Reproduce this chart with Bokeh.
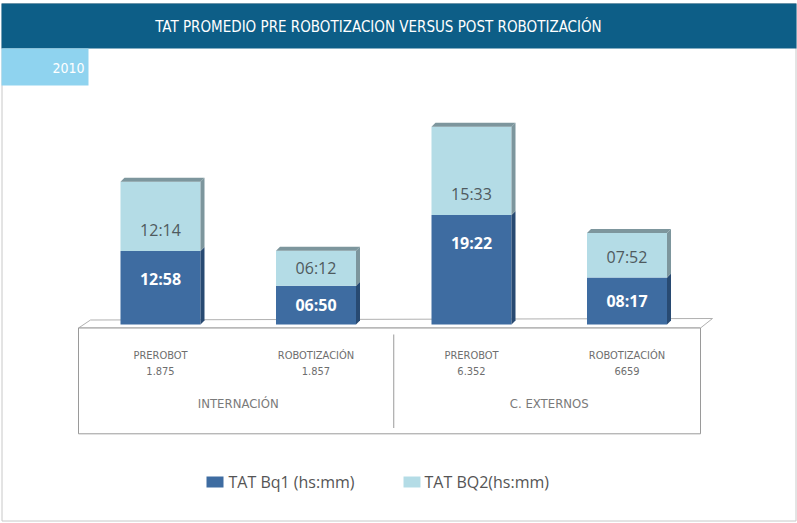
import numpy as np
from bokeh.plotting import figure
from bokeh.models import Range1d
from bokeh.core.properties import value
from bokeh.embed import file_html
from bokeh.resources import INLINE

# ---------------- data ----------------
title = "TAT PROMEDIO PRE ROBOTIZACION VERSUS POST ROBOTIZACIÓN"
year = "2010"
groups = ["INTERNACIÓN", "C. EXTERNOS"]
categories = ["PREROBOT", "ROBOTIZACIÓN", "PREROBOT", "ROBOTIZACIÓN"]
counts = ["1.875", "1.857", "6.352", "6659"]
series_names = ["TAT Bq1 (hs:mm)", "TAT BQ2(hs:mm)"]
tat_bq1 = ["12:58", "06:50", "19:22", "08:17"]
tat_bq2 = ["12:14", "06:12", "15:33", "07:52"]


def to_min(s):
    h, m = s.split(":")
    return int(h) * 60 + int(m)


b1 = np.array([to_min(s) for s in tat_bq1], dtype=float)
b2 = np.array([to_min(s) for s in tat_bq2], dtype=float)

# ---------------- styles ----------------
W, H = 797, 523
DARK, DARK_SIDE = "#3e6ca1", "#284a72"
LIGHT, LIGHT_SIDE = "#b4dce6", "#7d969d"
TITLE_BG, YEAR_BG = "#0d5e87", "#8fd3ef"
COND = value("DejaVu Sans Condensed, DejaVu Sans")
OPEN = value("Open Sans")

p = figure(width=W, height=H, x_range=Range1d(0, W), y_range=Range1d(H, 0),
           output_backend="svg", toolbar_location=None, min_border=0,
           x_axis_location=None, y_axis_location=None,
           outline_line_color=None, background_fill_color="white",
           border_fill_color="white")
p.grid.visible = False

# bar coordinate system (category units / minutes)
n = len(categories)
px0, step = 82.25, 155.5
p.extra_x_ranges = {"bx": Range1d(-px0 / step, (W - px0) / step)}
y0px, mpp = 324.0, 10.6
p.extra_y_ranges = {"by": Range1d(-(H - y0px) * mpp, y0px * mpp)}

# outer frame
p.quad(left=1.5, right=795.5, top=3, bottom=520.5, fill_color=None,
       line_color="#c8c8c8", line_width=1)
# title bar
p.quad(left=1, right=796, top=3, bottom=48, fill_color=TITLE_BG, line_color=None)
p.text(x=[378], y=[26], text=[title], text_align="center", text_baseline="middle",
       text_color="white", text_font=COND, text_font_size="15px")
# year tab
p.quad(left=1, right=88, top=48, bottom=85, fill_color=YEAR_BG, line_color=None)
p.text(x=[84], y=[67], text=[year], text_align="right", text_baseline="middle",
       text_color="white", text_font=COND, text_font_size="14px")

# floor (3D base)
p.patch(x=[78, 90, 712, 700], y=[327.5, 319.5, 318, 327.5], fill_color="white",
        line_color="#b0b0b0", line_width=1)
p.quad(left=78, right=700, top=327.5, bottom=433.3, fill_color="white",
       line_color="#9a9a9a", line_width=1)
p.segment(x0=[n / 2], y0=[334], x1=[n / 2], y1=[427.5], line_color="#9a9a9a",
          line_width=1, x_range_name="bx")

# bars
x = np.arange(n) + 0.5
bw = 80 / step
dx, dy = 4 / step, 4 * mpp
xr = x + bw / 2
xl = x - bw / 2
top = b1 + b2

p.vbar(x=x, width=bw, bottom=0, top=b1, fill_color=DARK, line_color=None,
       x_range_name="bx", y_range_name="by")
p.vbar(x=x, width=bw, bottom=b1, top=top, fill_color=LIGHT, line_color=None,
       x_range_name="bx", y_range_name="by")
p.patches(xs=[[a, a + dx, a + dx, a] for a in xr],
          ys=[[0, dy, t + dy, t] for t in b1],
          fill_color=DARK_SIDE, line_color=None, x_range_name="bx", y_range_name="by")
p.patches(xs=[[a, a + dx, a + dx, a] for a in xr],
          ys=[[b, b + dy, t + dy, t] for b, t in zip(b1, top)],
          fill_color=LIGHT_SIDE, line_color=None, x_range_name="bx", y_range_name="by")
p.patches(xs=[[a, a + dx, c + dx, c] for a, c in zip(xl, xr)],
          ys=[[t, t + dy, t + dy, t] for t in top],
          fill_color=LIGHT_SIDE, line_color=None, x_range_name="bx", y_range_name="by")

# value labels
y_lab1 = np.maximum(b1 / 2, b1 - 28 * mpp)
y_lab2 = np.minimum(b1 + b2 / 2, b1 + 21 * mpp)
p.text(x=x, y=y_lab1, text=tat_bq1, text_align="center", text_baseline="middle",
       text_color="white", text_font=OPEN, text_font_style="bold",
       text_font_size="16px", x_range_name="bx", y_range_name="by")
p.text(x=x, y=y_lab2, text=tat_bq2, text_align="center", text_baseline="middle",
       text_color="#4f5a5e", text_font=OPEN, text_font_size="16px",
       x_range_name="bx", y_range_name="by")

# category labels on floor
sub = [f"{c}\n{k}" for c, k in zip(categories, counts)]
p.text(x=x, y=[363] * n, text=sub, text_align="center", text_baseline="middle",
       text_color="#6e6e6e", text_font=COND, text_font_size="11px",
       text_line_height=1.3, x_range_name="bx")
gx = [x[2 * i:2 * i + 2].mean() for i in range(len(groups))]
p.text(x=gx, y=[403] * len(groups), text=groups, text_align="center",
       text_baseline="middle", text_color="#7a7a7a", text_font=COND,
       text_font_size="13px", x_range_name="bx")

# legend
p.quad(left=[206, 403], right=[223, 420], top=[476, 476], bottom=[487, 487],
       fill_color=[DARK, LIGHT], line_color=None)
p.text(x=[228, 424], y=[481, 481], text=series_names, text_align="left",
       text_baseline="middle", text_color="#555555", text_font=OPEN,
       text_font_size="16px")

open("out.html", "w").write(file_html(p, INLINE))
